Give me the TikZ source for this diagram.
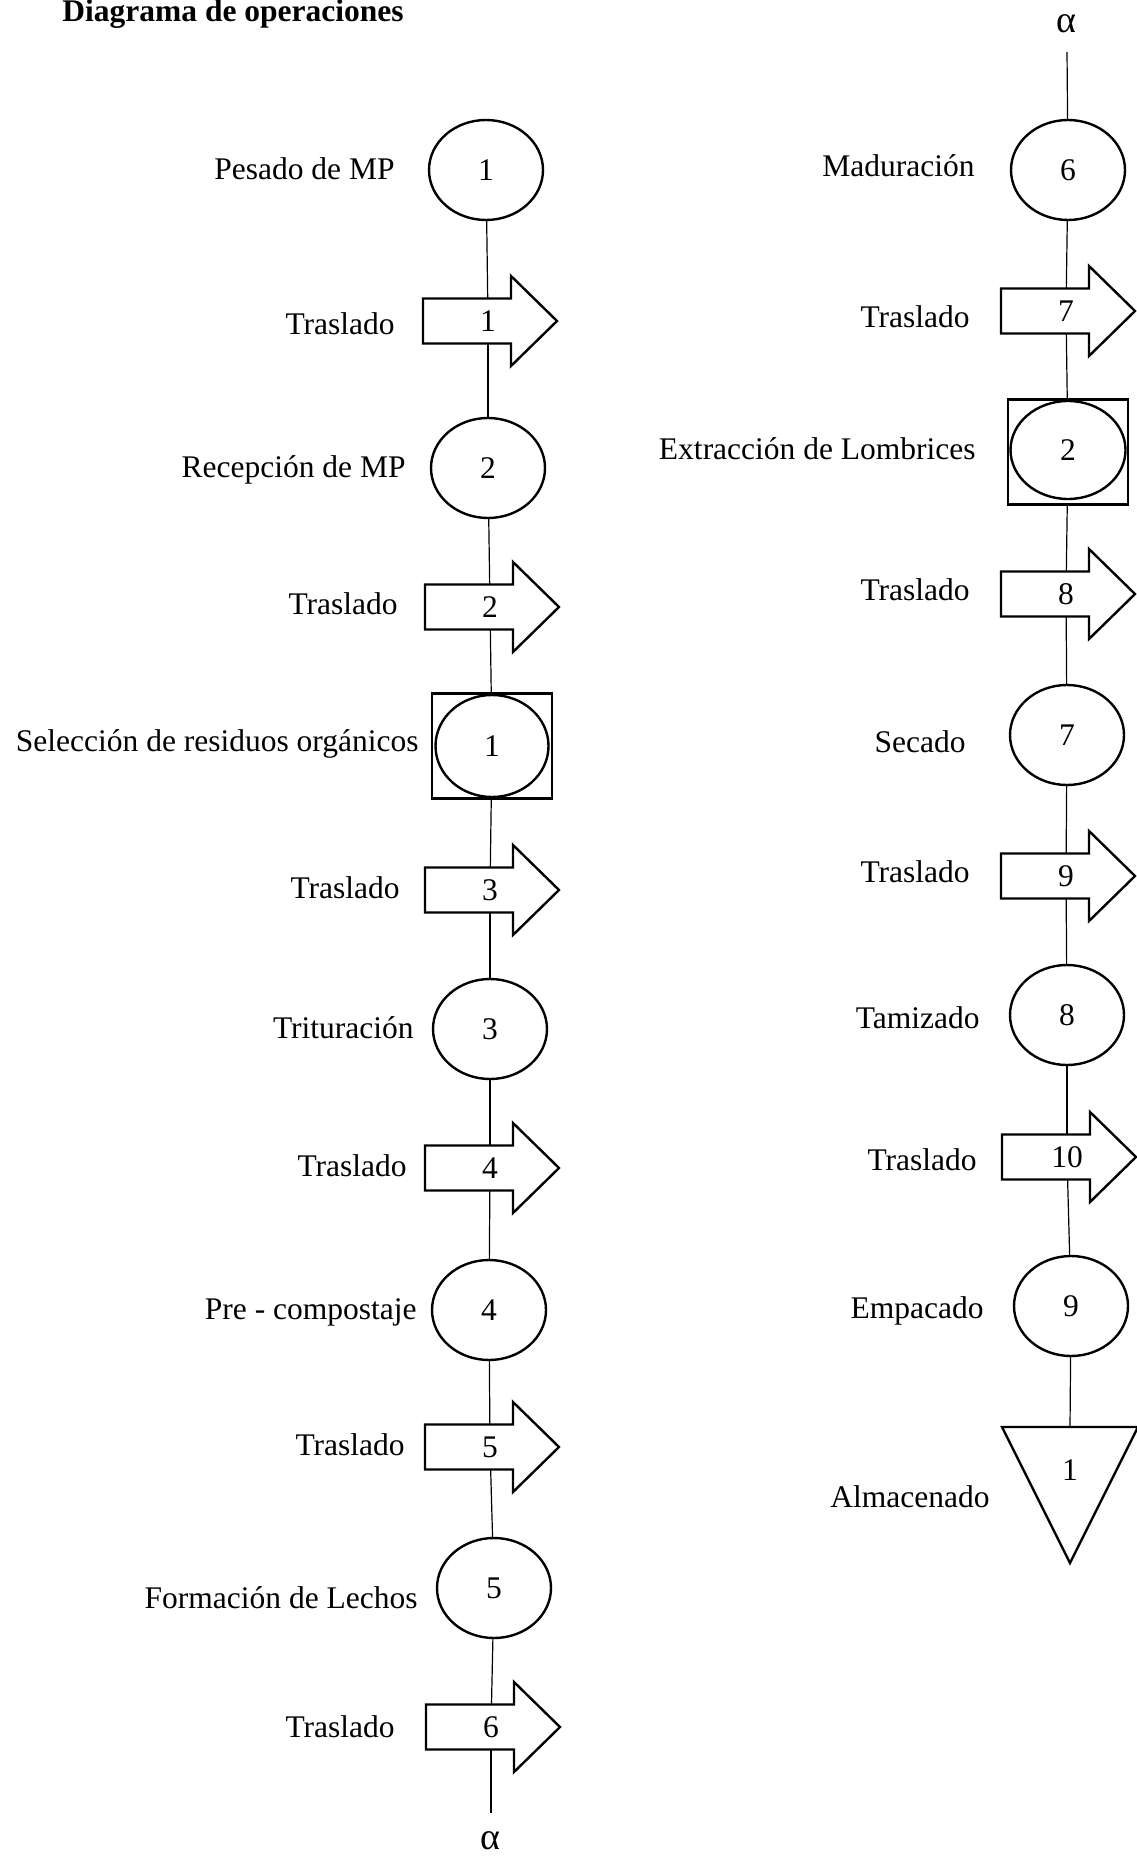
\documentclass[tikz,border=0pt]{standalone}
\usepackage{fontspec}
\setmainfont{Liberation Serif}
\usetikzlibrary{shapes.geometric,calc}
\tikzset{
  every node/.style={font=\fontsize{15.75pt}{19pt}\selectfont},
  op/.style={draw, ellipse, line width=1.2pt, minimum width=57pt, minimum height=50pt, inner sep=0pt},
  inspbox/.style={draw, rectangle, line width=1.2pt, minimum width=60pt, minimum height=52.5pt, inner sep=0pt},
  num/.style={inner sep=0pt},
  lbl/.style={anchor=base east, inner sep=0pt},
  alphalbl/.style={inner sep=0pt, font=\fontsize{19pt}{22pt}\selectfont},
  conn/.style={line width=0.6pt},
  shapeline/.style={line width=1.2pt, line join=miter},
}
\newcommand{\trasl}[4]{%
  \node[num, minimum height=22.5pt, minimum width=10pt] (#1) at (#2,#3) {#4};
  \draw[shapeline] ($(#1)+(-65,-22.5)$) -- ++(88,0) -- ++(0,-22.5) -- ($(#1)+(69,0)$) -- ($(#1)+(23,45)$) -- ++(0,-22.5) -- ($(#1)+(-65,22.5)$) -- cycle;
}
\begin{document}
\begin{tikzpicture}[x=0.5pt,y=-0.5pt]
\path[use as bounding box, fill=white] (0,0) rectangle (1136,1861);

% title
\node[anchor=base west, inner sep=0pt, font=\fontsize{15.75pt}{19pt}\selectfont\bfseries] (title) at (62,22) {Diagrama de operaciones};

% ---------- left column ----------
\node[op] (c1) at (486,170) {1};
\trasl{a1}{488}{321}{1}
\node[op] (c2) at (488,468) {2};
\trasl{a2}{490}{607}{2}
\node[inspbox] (b1) at (492,746) {};
\node[op, minimum width=56.5pt, minimum height=51pt] (b1c) at (b1) {1};
\trasl{a3}{490}{890}{3}
\node[op] (c3) at (490,1029) {3};
\trasl{a4}{490}{1168}{4}
\node[op] (c4) at (489,1310) {4};
\trasl{a5}{490}{1447}{5}
\node[op] (c5) at (494,1588) {5};
\trasl{a6}{491}{1727}{6}
\coordinate (botend) at (491,1813);
\node[alphalbl] (alphaBot) at (490,1841) {α};

\draw[conn] (c1) -- (a1);
\draw[conn] (a1) -- (c2);
\draw[conn] (c2) -- (a2);
\draw[conn] (a2) -- (b1);
\draw[conn] (b1) -- (a3);
\draw[conn] (a3) -- (c3);
\draw[conn] (c3) -- (a4);
\draw[conn] (a4) -- (c4);
\draw[conn] (c4) -- (a5);
\draw[conn] (a5) -- (c5);
\draw[conn] (c5) -- (a6);
\draw[conn] (a6) -- (botend);

\node[lbl] (l1) at (395,180) {Pesado de MP};
\node[lbl] (l2) at (395,335) {Traslado};
\node[lbl] (l3) at (406,478) {Recepción de MP};
\node[lbl] (l4) at (398,614) {Traslado};
\node[lbl] (l5) at (419,751) {Selección de residuos orgánicos};
\node[lbl] (l6) at (400,898) {Traslado};
\node[lbl] (l7) at (414,1038) {Trituración};
\node[lbl] (l8) at (407,1176) {Traslado};
\node[lbl] (l9) at (417,1319) {Pre - compostaje};
\node[lbl] (l10) at (405,1455) {Traslado};
\node[lbl] (l11) at (418,1608) {Formación de Lechos};
\node[lbl] (l12) at (395,1737) {Traslado};

% ---------- right column ----------
\node[alphalbl] (alphaTop) at (1066,24) {α};
\coordinate (topstart) at (1067,52);
\node[op] (c6) at (1068,170) {6};
\trasl{a7}{1066}{311}{7}
\node[inspbox] (b2) at (1068,452) {};
\node[op, minimum width=57.5pt, minimum height=49pt] (b2c) at (1068,450) {2};
\trasl{a8}{1066}{594}{8}
\node[op] (c7) at (1067,735) {7};
\trasl{a9}{1066}{876}{9}
\node[op] (c8) at (1067,1015) {8};
\trasl{a10}{1067}{1157}{10}
\node[op] (c9) at (1071,1306) {9};
\node[num] (t1) at (1070,1470) {1};
\coordinate (t1top) at (1070,1427);
\draw[shapeline] (1002,1427) -- (1138,1427) -- (1070,1563) -- cycle;

\draw[conn] (topstart) -- (c6);
\draw[conn] (c6) -- (a7);
\draw[conn] (a7) -- (b2);
\draw[conn] (b2) -- (a8);
\draw[conn] (a8) -- (c7);
\draw[conn] (c7) -- (a9);
\draw[conn] (a9) -- (c8);
\draw[conn] (c8) -- (a10);
\draw[conn] (a10) -- (c9);
\draw[conn] (c9) -- (t1top);

\node[lbl] (r1) at (975,177) {Maduración};
\node[lbl] (r2) at (970,328) {Traslado};
\node[lbl] (r3) at (976,459) {Extracción de Lombrices};
\node[lbl] (r4) at (970,600) {Traslado};
\node[lbl] (r5) at (966,752) {Secado};
\node[lbl] (r6) at (970,882) {Traslado};
\node[lbl] (r7) at (980,1028) {Tamizado};
\node[lbl] (r8) at (977,1170) {Traslado};
\node[lbl] (r9) at (984,1318) {Empacado};
\node[lbl] (r10) at (990,1507) {Almacenado};
\end{tikzpicture}
\end{document}
